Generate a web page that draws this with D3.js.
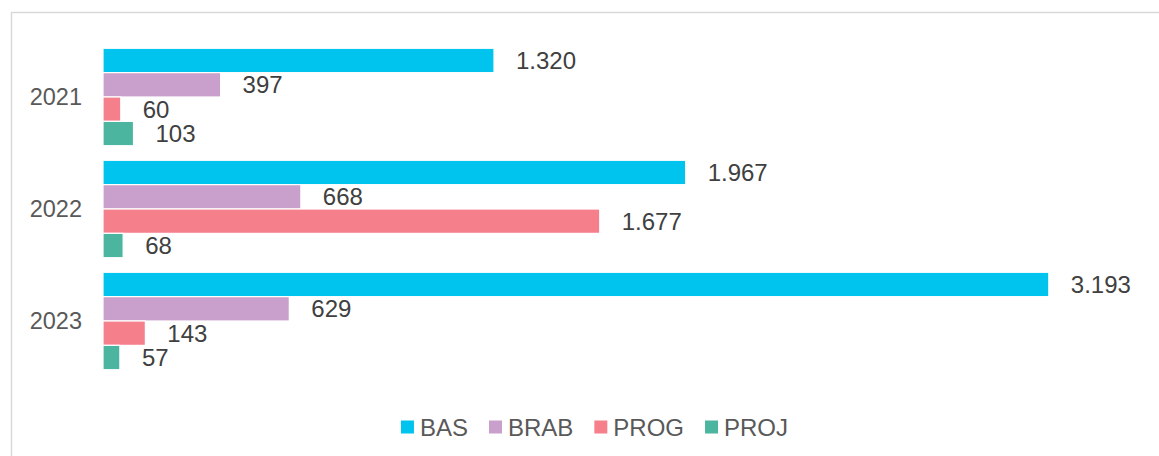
<!DOCTYPE html>
<html><head><meta charset="utf-8">
<script src="https://cdn.jsdelivr.net/npm/d3@7"></script>
<style>body{margin:0;background:#fff;overflow:hidden}svg{display:block;font-family:"Liberation Sans",Arial,sans-serif}</style>
</head><body>
<script>
const years = ["2021", "2022", "2023"];
const seriesNames = ["BAS", "BRAB", "PROG", "PROJ"];
const BAS  = [1320, 1967, 3193];
const BRAB = [397, 668, 629];
const PROG = [60, 1677, 143];
const PROJ = [103, 68, 57];
const colors = ["#00C4EE", "#C9A0CB", "#F67F8C", "#4BB5A0"];
const valueLabels = {BAS:["1.320","1.967","3.193"], BRAB:["397","668","629"], PROG:["60","1.677","143"], PROJ:["103","68","57"]};

const W = 1159, H = 456;
const svg = d3.select("body").append("svg").attr("width", W).attr("height", H);

// frame
svg.append("rect").attr("x", 11.5).attr("y", 12.5).attr("width", 1200).attr("height", 500)
  .attr("fill", "none").attr("stroke", "#d9d9d9").attr("stroke-width", 1.5);
// clipped title remnant (descender only visible, as in the reference)
svg.append("text").attr("x", 169).attr("y", -4).attr("font-size", 20).attr("fill", "#7f7f7f").text("g");

const data = {BAS, BRAB, PROG, PROJ};
const x = d3.scaleLinear().domain([0, 3500]).range([103, 103 + 3500 * (391 / 1320)]);
const y0 = d3.scaleBand().domain(years).range([41, 377]).paddingInner(0.13).paddingOuter(0.065);
const y1 = d3.scaleBand().domain(seriesNames).range([0, y0.bandwidth()]);

const g = svg.append("g");
years.forEach((yr, i) => {
  const gy = g.append("g").attr("transform", `translate(0,${y0(yr)})`);
  seriesNames.forEach((s, j) => {
    const v = data[s][i];
    gy.append("rect").attr("x", x(0)).attr("y", y1(s)).attr("width", x(v) - x(0)).attr("height", y1.bandwidth())
      .attr("fill", colors[j]).attr("stroke", "#fff").attr("stroke-width", 1.2);
    gy.append("text").attr("x", x(v) + 22).attr("y", y1(s) + y1.bandwidth() / 2).attr("dy", "0.35em")
      .attr("font-size", 24).attr("fill", "#404040").text(valueLabels[s][i]);
  });
});

// y axis labels
const yAxis = d3.axisLeft(y0).tickSize(0).tickPadding(21);
const ya = svg.append("g").attr("transform", `translate(${x(0)},0)`).call(yAxis);
ya.select(".domain").remove();
ya.selectAll("text").attr("font-size", 23.5).attr("fill", "#595959").attr("font-family", '"Liberation Sans",Arial,sans-serif');

// legend
const leg = svg.append("g");
const items = seriesNames.map((s, j) => {
  const it = leg.append("g");
  it.append("rect").attr("x", 0).attr("y", -6.5).attr("width", 13).attr("height", 13).attr("fill", colors[j]);
  const t = it.append("text").attr("x", 19).attr("y", 0).attr("dy", "0.36em").attr("font-size", 24).attr("fill", "#595959").text(s);
  return {it, w: 19 + t.node().getComputedTextLength()};
});
const total = d3.sum(items, d => d.w) + 21 * (items.length - 1);
let cx = 594.5 - total / 2;
items.forEach(d => { d.it.attr("transform", `translate(${cx},427)`); cx += d.w + 21; });
</script>
</body></html>
